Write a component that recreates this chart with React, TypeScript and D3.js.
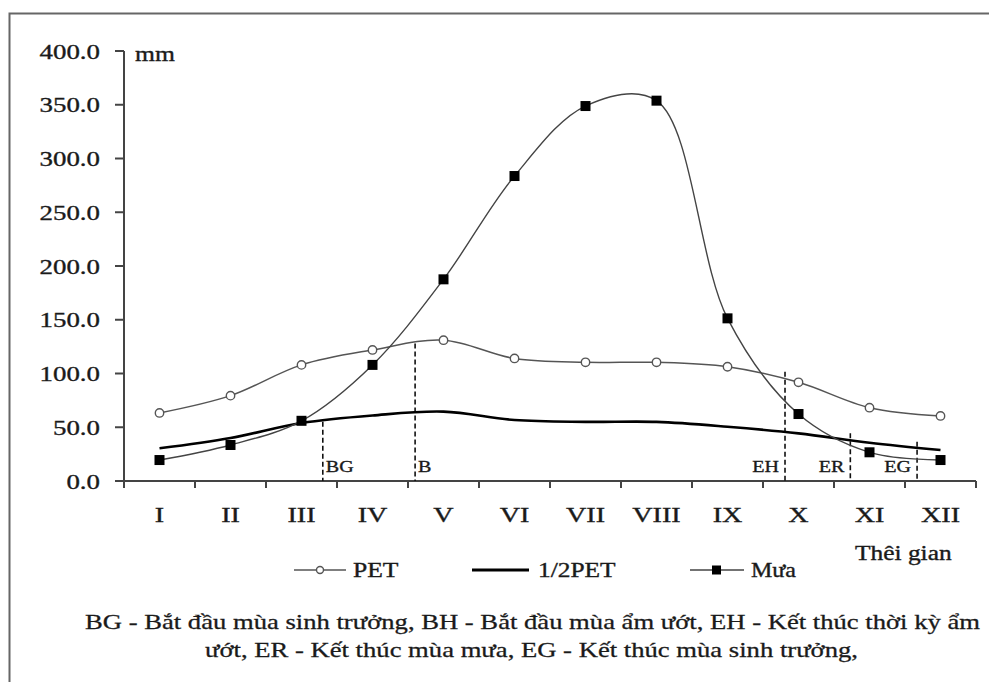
import React from "react";
import * as d3 from "d3";

const months = ["I", "II", "III", "IV", "V", "VI", "VII", "VIII", "IX", "X", "XI", "XII"];
const pet = [63.3, 79.4, 108, 121.9, 131, 114, 110.4, 110.4, 106.3, 91.8, 68.2, 60.5];
const halfPet = [30.4, 40, 54, 61, 64.5, 56.7, 55, 55, 50.5, 44.3, 35.6, 28.8];
const rain = [19.5, 33.5, 56, 108, 187.6, 283.7, 348.8, 353.8, 151.3, 62.3, 26.7, 19.5];
const yTicks = [0, 50, 100, 150, 200, 250, 300, 350, 400];
const phaseLabels = ["BG", "B", "EH", "ER", "EG"];
const phasePos = [2.8, 4.1, 9.31, 10.23, 11.17]; // position in month units from axis start
const phaseTop = [55.2, 128, 101.7, 44.4, 36.6];
const phaseSide = ["right", "right", "left", "left", "left"];
const legendNames = ["PET", "1/2PET", "Mưa"];
const captionLines = [
  "BG - Bắt đầu mùa sinh trưởng, BH - Bắt đầu mùa ẩm ướt, EH - Kết thúc thời kỳ ẩm",
  "ướt, ER - Kết thúc mùa mưa, EG - Kết thúc mùa sinh trưởng,",
];

const FONT = "'Liberation Serif', 'Times New Roman', serif";
const TXT = "#1a1a1a";

function T({ x, y, size, anchor = "start", sx = 1.28, children }: any) {
  return (
    <text
      transform={`translate(${x},${y}) scale(${sx},1)`}
      fontSize={size}
      fontFamily={FONT}
      textAnchor={anchor}
      fill={TXT}
      stroke={TXT}
      strokeWidth={0.35}
    >
      {children}
    </text>
  );
}

export default function App() {
  const x0 = 124;
  const x1 = 976;
  const x = d3.scaleBand<string>().domain(months).range([x0, x1]).padding(0);
  const bw = x.bandwidth();
  const cx = (m: string) => (x(m) as number) + bw / 2;
  const y = d3.scaleLinear().domain([0, 400]).range([481, 51]);
  const posX = d3.scaleLinear().domain([0, 12]).range([x0, x1]);

  const line = d3
    .line<number>()
    .x((_, i) => cx(months[i]))
    .y((d) => y(d))
    .curve(d3.curveCatmullRom.alpha(0.5));

  const fmt = d3.format(".1f");

  return (
    <svg
      width={989}
      height={682}
      style={{ position: "absolute", left: 0, top: 0, background: "#fff" }}
    >
      {/* frame */}
      <path d="M9.5,682 V13.5 H989" fill="none" stroke="#666" strokeWidth={2} />

      {/* y axis */}
      <line x1={x0} x2={x0} y1={y(400)} y2={y(0)} stroke="#444" strokeWidth={2} />
      {yTicks.map((t) => (
        <g key={t}>
          <line x1={x0 - 9} x2={x0} y1={y(t)} y2={y(t)} stroke="#444" strokeWidth={2} />
          <T x={100} y={y(t) + 7.5} size={21} anchor="end">
            {fmt(t)}
          </T>
        </g>
      ))}
      <T x={135} y={61} size={20}>mm</T>

      {/* x axis */}
      <line x1={x0} x2={x1} y1={y(0)} y2={y(0)} stroke="#444" strokeWidth={2} />
      {months.map((m) => (
        <line
          key={"t" + m}
          x1={x(m) as number}
          x2={x(m) as number}
          y1={y(0)}
          y2={y(0) + 7}
          stroke="#444"
          strokeWidth={2}
        />
      ))}
      <line x1={x1} x2={x1} y1={y(0)} y2={y(0) + 7} stroke="#444" strokeWidth={2} />
      {months.map((m) => (
        <T key={"l" + m} x={cx(m)} y={522} size={22} anchor="middle">
          {m}
        </T>
      ))}
      <T x={855} y={560} size={20} sx={1.27}>Thêi gian</T>

      {/* phase dashed lines */}
      {phaseLabels.map((lab, i) => {
        const px = posX(phasePos[i]);
        return (
          <g key={lab}>
            <line
              x1={px}
              x2={px}
              y1={y(phaseTop[i])}
              y2={y(0)}
              stroke="#111"
              strokeWidth={1.6}
              strokeDasharray="5,3"
            />
            <T
              x={phaseSide[i] === "right" ? px + 3 : px - 6}
              y={472}
              size={17}
              anchor={phaseSide[i] === "right" ? "start" : "end"}
              sx={1.18}
            >
              {lab}
            </T>
          </g>
        );
      })}

      {/* series lines */}
      <path d={line(pet) as string} fill="none" stroke="#555" strokeWidth={1.5} />
      <path d={line(halfPet) as string} fill="none" stroke="#000" strokeWidth={2.6} />
      <path d={line(rain) as string} fill="none" stroke="#444" strokeWidth={1.4} />

      {pet.map((v, i) => (
        <circle
          key={"p" + i}
          cx={cx(months[i])}
          cy={y(v)}
          r={4.2}
          fill="#fff"
          stroke="#555"
          strokeWidth={1.4}
        />
      ))}
      {rain.map((v, i) => (
        <rect
          key={"r" + i}
          x={cx(months[i]) - 5}
          y={y(v) - 5}
          width={10}
          height={10}
          fill="#000"
        />
      ))}

      {/* legend */}
      <g>
        <line x1={294} x2={346} y1={570} y2={570} stroke="#555" strokeWidth={1.5} />
        <circle cx={320} cy={570} r={3.5} fill="#fff" stroke="#555" strokeWidth={1.4} />
        <T x={353} y={577} size={20}>{legendNames[0]}</T>

        <line x1={472} x2={529} y1={570} y2={570} stroke="#000" strokeWidth={2.8} />
        <T x={538} y={577} size={20} sx={1.27}>{legendNames[1]}</T>

        <line x1={690} x2={744} y1={570} y2={570} stroke="#444" strokeWidth={1.5} />
        <rect x={712} y={565.5} width={9} height={9} fill="#000" />
        <T x={751} y={577} size={20} sx={1.2}>{legendNames[2]}</T>
      </g>

      {/* caption */}
      <text
        x={85}
        y={629}
        fontSize={22}
        fontFamily={FONT}
        fill={TXT}
        stroke={TXT}
        strokeWidth={0.3}
        textLength={895}
        lengthAdjust="spacingAndGlyphs"
      >
        {captionLines[0]}
      </text>
      <text
        x={205}
        y={657}
        fontSize={22}
        fontFamily={FONT}
        fill={TXT}
        stroke={TXT}
        strokeWidth={0.3}
        textLength={653}
        lengthAdjust="spacingAndGlyphs"
      >
        {captionLines[1]}
      </text>
    </svg>
  );
}
